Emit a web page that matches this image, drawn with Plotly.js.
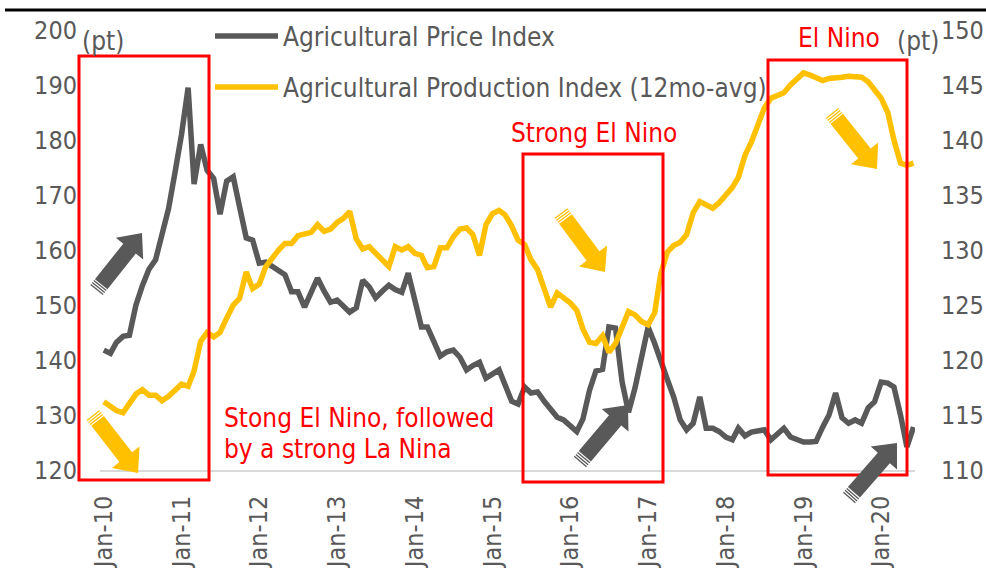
<!DOCTYPE html>
<html>
<head>
<meta charset="utf-8">
<script src="https://cdn.plot.ly/plotly-3.0.1.min.js"></script>
<style>
  html, body { margin: 0; padding: 0; background: #fff; }
  #plot { width: 986px; height: 568px; }
</style>
</head>
<body>
<div id="plot"></div>
<script>
// Monthly series, Jan-10 .. Jun-20
const priceIndex = [
  141.8, 141.2, 143.2, 144.3, 144.5, 150.0, 153.5, 156.5, 158.2, 162.5, 167.5, 174.0,
  181.0, 189.5, 172.0, 179.2, 174.5, 173.0, 166.5, 172.5, 173.3, 167.8, 162.2, 161.8,
  157.6, 157.8, 157.0, 156.2, 155.5, 152.4, 152.4, 149.6, 152.5, 154.9, 152.5, 150.5,
  150.9, 149.8, 148.7, 149.5, 154.5, 153.3, 151.3, 152.5, 153.6, 152.8, 152.3, 155.8,
  150.5, 146.0, 146.0, 143.0, 140.7, 141.5, 141.8, 140.5, 138.2, 139.0, 139.6, 136.7,
  137.5, 138.2, 135.5, 132.5, 132.0, 135.1, 134.0, 134.2, 132.5, 131.0, 129.6, 129.1,
  128.0, 127.0, 129.3, 134.5, 138.0, 138.3, 146.0, 145.8, 136.0, 130.5, 135.0, 141.0,
  146.0, 143.0, 139.6, 136.5, 133.3, 129.1, 127.3, 128.5, 133.3, 127.6, 127.6, 127.0,
  126.0, 125.5, 127.6, 126.2, 126.9, 127.1, 127.3, 125.5, 126.5, 127.6, 126.0, 125.6,
  125.1, 125.1, 125.2, 127.8, 130.0, 134.0, 129.5, 128.5, 129.1, 128.5, 131.3, 132.4,
  136.0, 135.8, 135.1, 130.0, 124.2, 127.8
];
const productionIndex = [
  116.2, 115.8, 115.4, 115.2, 116.0, 116.9, 117.3, 116.8, 116.8, 116.3, 116.7, 117.3,
  117.8, 117.6, 119.0, 121.7, 122.5, 122.1, 122.5, 123.8, 125.0, 125.6, 128.0, 126.5,
  126.9, 128.5, 129.3, 130.0, 130.6, 130.6, 131.3, 131.4, 131.6, 132.3, 131.7, 131.9,
  132.5, 132.9, 133.5, 131.0, 130.1, 130.3, 129.7, 129.1, 128.5, 130.3, 130.0, 130.3,
  129.7, 129.5, 128.4, 128.5, 130.2, 130.2, 131.2, 131.9, 132.0, 131.4, 129.5, 132.3,
  133.3, 133.6, 133.2, 132.2, 130.9, 130.5, 129.1, 128.2, 126.5, 124.8, 126.1, 125.6,
  125.2, 124.5, 122.8, 121.6, 121.5, 122.2, 120.7, 121.5, 123.0, 124.4, 124.1, 123.5,
  123.2, 124.3, 127.8, 129.8, 130.4, 130.7, 131.4, 133.4, 134.4, 134.1, 133.8, 134.3,
  135.0, 135.7, 136.6, 138.6, 139.8, 141.3, 142.9, 143.8, 144.0, 144.3, 145.0, 145.6,
  146.1, 145.9, 145.6, 145.4, 145.6, 145.6, 145.7, 145.8, 145.8, 145.7, 145.3, 144.6,
  143.8, 142.5, 140.0, 137.9, 137.7, 137.9
];
const tickDates = ['2010-01-01', '2011-01-01', '2012-01-01', '2013-01-01', '2014-01-01', '2015-01-01',
  '2016-01-01', '2017-01-01', '2018-01-01', '2019-01-01', '2020-01-01'];
const tickLabels = ['Jan-10', 'Jan-11', 'Jan-12', 'Jan-13', 'Jan-14', 'Jan-15',
  'Jan-16', 'Jan-17', 'Jan-18', 'Jan-19', 'Jan-20'];

const months = [];
for (let i = 0; i < priceIndex.length; i++) {
  const yr = 2010 + Math.floor(i / 12);
  const mo = (i % 12) + 1;
  months.push(yr + '-' + String(mo).padStart(2, '0') + '-01');
}

const FONT = 'DejaVu Sans Condensed, DejaVu Sans, sans-serif';
const GREY = '#595959';
const GOLD = '#FFC000';
const RED = '#FF0000';

// plot area in page pixels: x 100..915, y 30..470
const px = (x) => (x - 100) / 815;
const py = (y) => (470 - y) / 440;

function rect(x0, y0, x1, y1) {
  return {
    type: 'rect', xref: 'paper', yref: 'paper', layer: 'above',
    x0: px(x0), x1: px(x1), y0: py(y1), y1: py(y0),
    line: { color: RED, width: 3 }, fillcolor: 'rgba(0,0,0,0)'
  };
}

// block arrow with a striped tail, given in page pixels
function arrow(tail, tip, color) {
  const dx = tip[0] - tail[0], dy = tip[1] - tail[1];
  const len = Math.sqrt(dx * dx + dy * dy);
  const ux = dx / len, uy = dy / len, nx = -uy, ny = ux;
  const w = 8, h = 17.5, head = 20;
  const pt = (t, s) => px(tail[0] + ux * t + nx * s).toFixed(5) + ',' + py(tail[1] + uy * t + ny * s).toFixed(5);
  const out = [];
  const body = 'M' + pt(7.5, w) + 'L' + pt(len - head, w) + 'L' + pt(len - head, h) + 'L' + pt(len, 0) +
    'L' + pt(len - head, -h) + 'L' + pt(len - head, -w) + 'L' + pt(7.5, -w) + 'Z';
  out.push({ type: 'path', xref: 'paper', yref: 'paper', layer: 'above', path: body,
    fillcolor: color, line: { width: 0 } });
  [[0, 1.3], [2.5, 3.8], [5, 6.3]].forEach(([a, b]) => {
    out.push({ type: 'path', xref: 'paper', yref: 'paper', layer: 'above',
      path: 'M' + pt(a, w) + 'L' + pt(b, w) + 'L' + pt(b, -w) + 'L' + pt(a, -w) + 'Z',
      fillcolor: color, line: { width: 0 } });
  });
  return out;
}

const shapes = [
  { type: 'line', xref: 'paper', yref: 'paper', x0: px(5), x1: px(990), y0: py(10), y1: py(10),
    line: { color: '#000', width: 3 } },
  rect(79, 56, 209, 480),
  rect(523, 154, 663, 482),
  rect(768, 60, 907, 475)
].concat(
  arrow([96.5, 290], [142, 233], GREY),
  arrow([93, 415], [138, 473], GOLD),
  arrow([561, 213], [605, 272], GOLD),
  arrow([580, 462], [628, 405], GREY),
  arrow([832, 113], [877, 169], GOLD),
  arrow([849, 498], [897, 443], GREY)
);

function note(text, x, y, color) {
  return { text: text, xref: 'paper', yref: 'paper', x: px(x), y: py(y), xanchor: 'left', yanchor: 'middle',
    showarrow: false, align: 'left', font: { family: FONT, size: 26, color: color } };
}

const annotations = [
  note('(pt)', 80, 41, GREY),
  note('(pt)', 895, 41, GREY),
  note('Stong El Nino, followed', 222, 418, RED),
  note('by a strong La Nina', 222, 449, RED),
  note('Strong El Nino', 509, 133, RED),
  note('El Nino', 796, 38, RED)
];

const data = [
  {
    x: months, y: priceIndex, type: 'scatter', mode: 'lines',
    name: 'Agricultural Price Index', legend: 'legend',
    line: { color: GREY, width: 5.5 }
  },
  {
    x: months, y: productionIndex, type: 'scatter', mode: 'lines', yaxis: 'y2',
    name: 'Agricultural Production Index (12mo-avg)', legend: 'legend2',
    line: { color: GOLD, width: 5.5 }
  }
];

const tickFont = { family: FONT, size: 25, color: GREY };
const legendBase = {
  xanchor: 'left', yanchor: 'middle', bgcolor: 'rgba(0,0,0,0)', borderwidth: 0,
  font: { family: FONT, size: 26, color: GREY }, itemwidth: 63
};

const layout = {
  width: 986, height: 568,
  margin: { l: 100, r: 71, t: 30, b: 98 },
  paper_bgcolor: '#fff', plot_bgcolor: '#fff',
  showlegend: true,
  legend: Object.assign({ x: px(210), y: py(36) }, legendBase),
  legend2: Object.assign({ x: px(210), y: py(87) }, legendBase),
  xaxis: {
    type: 'date', range: ['2009-12-14', '2020-06-08'],
    tickvals: tickDates, ticktext: tickLabels, tickangle: -90,
    tickfont: tickFont, ticks: '', ticklabelstandoff: 14,
    showgrid: false, zeroline: false,
    showline: true, linecolor: '#d9d9d9', linewidth: 1.5
  },
  yaxis: {
    range: [120, 200], dtick: 10, tickfont: tickFont, ticks: '',
    ticklabelstandoff: 22, showgrid: false, zeroline: false
  },
  yaxis2: {
    range: [110, 150], dtick: 5, tickfont: tickFont, ticks: '', overlaying: 'y', side: 'right',
    ticklabelstandoff: 25, showgrid: false, zeroline: false
  },
  shapes: shapes,
  annotations: annotations
};

Plotly.newPlot('plot', data, layout, { displayModeBar: false });
</script>
</body>
</html>
